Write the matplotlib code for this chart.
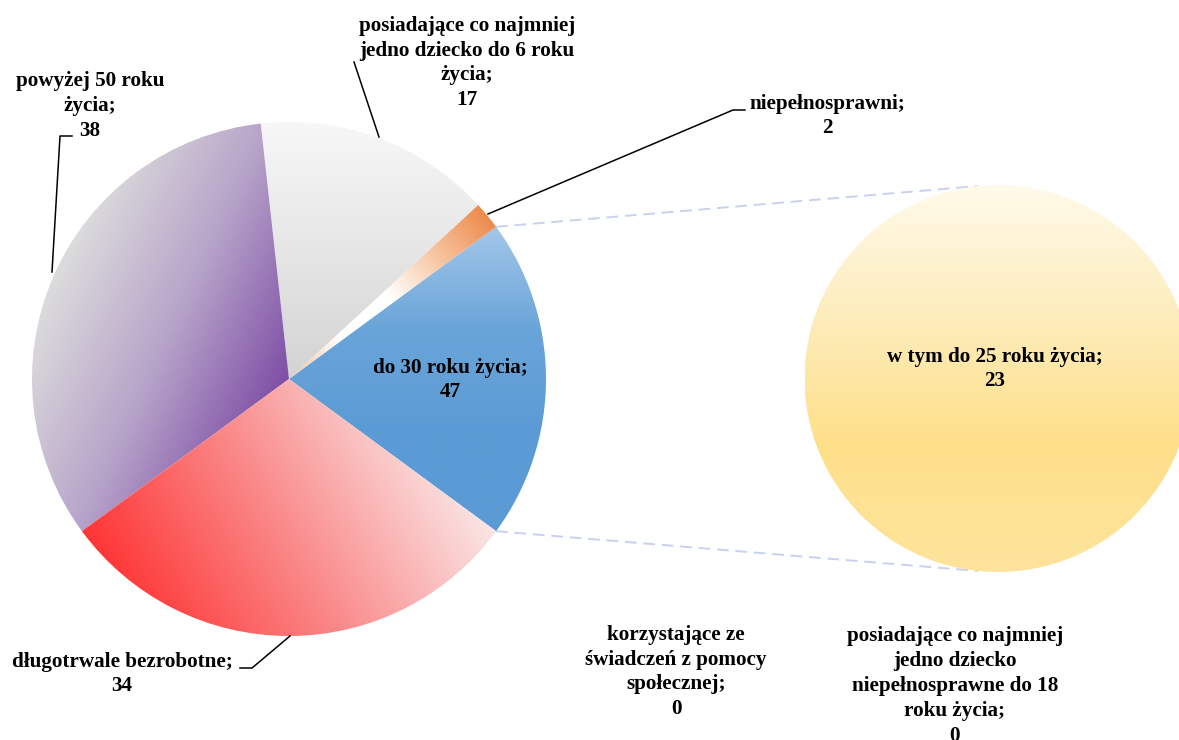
import matplotlib.pyplot as plt
import numpy as np
from matplotlib.colors import LinearSegmentedColormap

# wykres kołowy z wykresem pomocniczym (pie of pie)
# wycinki koła głównego, przeciwnie do ruchu wskazówek od "do 30 roku życia"
wartosci_glowne = [23, 2, 17, 38, 34]
etykiety_glowne = [
    "do 30 roku życia;\n47",
    "niepełnosprawni;\n2",
    "posiadające co najmniej\njedno dziecko do 6 roku\nżycia;\n17",
    "powyżej 50 roku\nżycia;\n38",
    "długotrwale bezrobotne;\n34",
]
# koło pomocnicze
wartosci_drugie = [23, 0, 0]
etykiety_drugie = [
    "w tym do 25 roku życia;\n23",
    "korzystające ze\nświadczeń z pomocy\nspołecznej;\n0",
    "posiadające co najmniej\njedno dziecko\nniepełnosprawne do 18\nroku życia;\n0",
]

W, H = 1179, 740


def py(y):
    return H - y


# (kąt kierunku gradientu, kolory)
gradienty_glowne = [
    (-90, ["#a3c7e9", "#6aa5d9", "#5b9bd5", "#5b9bd5"]),
    (39.5, ["#f6bf96", "#ffffff", "#ffffff", "#f7c4a0", "#ed8a4b"]),
    (-90, ["#f7f7f7", "#e6e6e6", "#d3d3d3"]),
    (-25, ["#dcdcdc", "#b7a4c9", "#7e4ea6"]),
    (30, ["#ff3535", "#fa8c8c", "#fbe6e6"]),
]
gradienty_drugie = [(-90, ["#fffaea", "#fdedbd", "#ffe08a", "#fde49c"])]


def wypelnij_gradientem(ax, klin, kat, kolory):
    sciezka = klin.get_path().transformed(klin.get_patch_transform())
    v = np.vstack(sciezka.to_polygons())
    x0, y0 = v.min(axis=0)
    x1, y1 = v.max(axis=0)
    X, Y = np.meshgrid(np.linspace(x0, x1, 400), np.linspace(y0, y1, 400))
    d = np.array([np.cos(np.radians(kat)), np.sin(np.radians(kat))])
    rv = v @ d
    t = (X * d[0] + Y * d[1] - rv.min()) / (rv.max() - rv.min())
    cmap = LinearSegmentedColormap.from_list("g", kolory)
    im = ax.imshow(t, cmap=cmap, vmin=0, vmax=1, extent=(x0, x1, y0, y1),
                   origin="lower", interpolation="bilinear", zorder=1)
    im.set_clip_path(klin)
    klin.set_facecolor("none")


fig = plt.figure(figsize=(W / 100, H / 100), dpi=100)
ax = fig.add_axes([0, 0, 1, 1])

srodek1, r1 = (289, py(379)), 257
srodek2, r2 = (998, py(378.5)), 193.5

kat_start = -360 * wartosci_glowne[0] / sum(wartosci_glowne) / 2
kliny1, _ = ax.pie(wartosci_glowne, center=srodek1, radius=r1, startangle=kat_start,
                   wedgeprops=dict(linewidth=0), frame=True)
kliny2, _ = ax.pie(wartosci_drugie, center=srodek2, radius=r2, startangle=90,
                   wedgeprops=dict(linewidth=0), frame=True)

for klin, (kat, kolory) in zip(kliny1, gradienty_glowne):
    wypelnij_gradientem(ax, klin, kat, kolory)
wypelnij_gradientem(ax, kliny2[0], *gradienty_drugie[0])

# linie łączące wycinek z kołem pomocniczym
niebieski = kliny1[0]
for th, th2 in [(niebieski.theta2, 96), (niebieski.theta1, 264)]:
    xa = srodek1[0] + r1 * np.cos(np.radians(th))
    ya = srodek1[1] + r1 * np.sin(np.radians(th))
    xb = srodek2[0] + r2 * np.cos(np.radians(th2))
    yb = srodek2[1] + r2 * np.sin(np.radians(th2))
    ax.plot([xa, xb], [ya, yb], color="#c8d2ee", lw=1.4, dashes=(6, 3.5), zorder=0)

# linie odniesienia etykiet
linie = [
    [(488, 214), (733, 110), (745, 110)],
    [(379, 137), (354, 62)],
    [(52, 272), (60, 136), (72, 136)],
    [(290, 636), (252, 668), (240, 668)],
]
for linia in linie:
    xs, ys = zip(*linia)
    ax.plot(xs, [py(y) for y in ys], color="black", lw=1.1, zorder=3)

pozycje_glowne = [(450, 380), (827, 116), (467, 63), (90, 106), (122, 674)]
pozycje_drugie = [(995, 369), (676, 672), (955, 686)]
styl = dict(fontfamily="Liberation Serif", fontweight="bold", fontsize=15.2,
            ha="center", va="center", multialignment="center", linespacing=1.33, zorder=4)
for tekst, (x, y) in zip(etykiety_glowne + etykiety_drugie, pozycje_glowne + pozycje_drugie):
    ax.text(x, py(y), tekst, **styl)

ax.set_xlim(0, W)
ax.set_ylim(0, H)
ax.set_aspect("equal")
ax.axis("off")

fig.savefig("out.png", dpi=100)
